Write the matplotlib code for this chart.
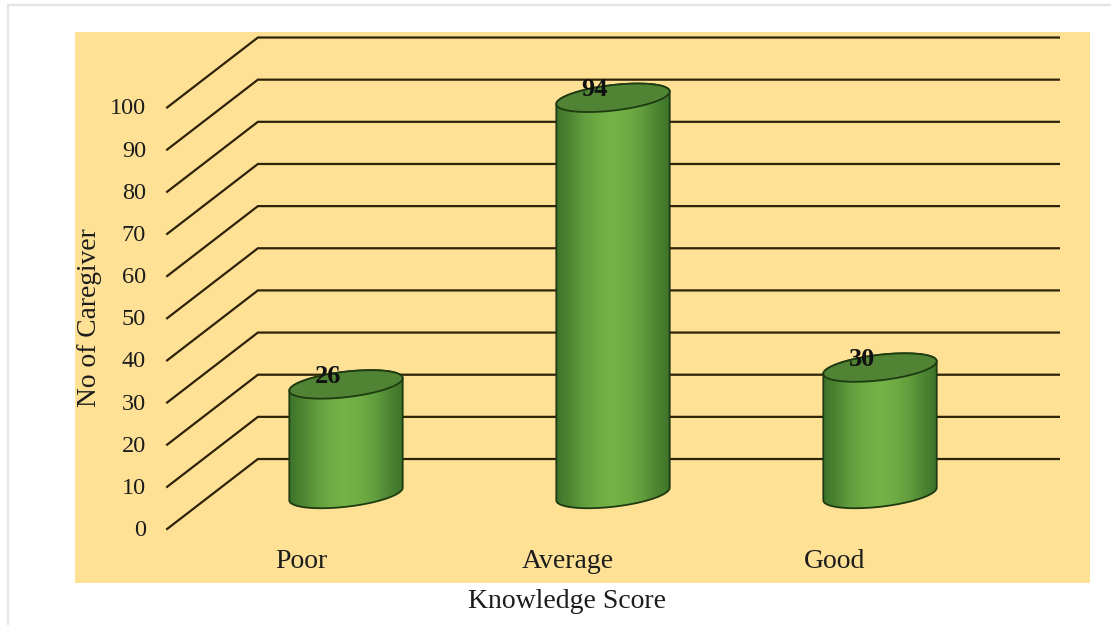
import matplotlib.pyplot as plt
import numpy as np
from matplotlib.lines import Line2D
from matplotlib.patches import PathPatch, Polygon
from matplotlib.path import Path

plt.rcParams['font.family'] = ['Liberation Serif', 'DejaVu Serif']

# Data
categories = ["Poor", "Average", "Good"]
values = [26, 94, 30]
y_ticks = [0, 10, 20, 30, 40, 50, 60, 70, 80, 90, 100]

W, H = 1111, 625
fig = plt.figure(figsize=(W / 100, H / 100), dpi=100, facecolor='white')

# Yellow panel, in pixels of the reference
left, right, top, bottom = 75, 1090, 32, 583
ax = fig.add_axes([left / W, 1 - bottom / H, (right - left) / W, (bottom - top) / H])

# Scales: one category is 267 px, one unit of value is 4.215 px
px_x = 267.0
px_y = 4.215
ax.axis('off')
ax.add_patch(plt.Rectangle((0, 0), 1, 1, transform=ax.transAxes, color='#fee195', zorder=0))

# Depth of the 3D floor
front_x, back_x, end_x = -0.67, -0.33, 2.67
depth_y = 8.3
line_col = '#2e2208'

for v in y_ticks:
    ax.plot([front_x, back_x, end_x], [v - depth_y, v + depth_y, v + depth_y],
            color=line_col, lw=1.6, solid_joinstyle='miter', zorder=1)
    ax.text(front_x - 21 / px_x, v - depth_y - 1.5 / px_y, str(v), ha='right', va='center',
            fontsize=17.5, color='#1c1c1c', zorder=5)


def ellipse(cx, cy, t):
    # tilted ellipse, worked out in pixels then turned into data units
    a, b, tilt = 57.0, 13.0, np.radians(6)
    ex = a * np.cos(t) * np.cos(tilt) + b * np.sin(t) * np.sin(tilt)
    ey = a * np.cos(t) * np.sin(tilt) + b * np.sin(t) * np.cos(tilt)
    return cx + ex / px_x, cy + ey / px_y


stops = [0.0, 0.3, 0.68, 0.9, 1.0, 0.9, 0.68, 0.3, 0.0]
dark = np.array([0x3e, 0x73, 0x2a]) / 255
light = np.array([0x74, 0xb3, 0x47]) / 255
ramp = np.interp(np.linspace(0, 1, 200), np.linspace(0, 1, len(stops)), stops)
img = dark[None, None, :] + (light - dark)[None, None, :] * ramp[None, :, None]

for i, val in enumerate(values):
    # outline of the cylinder: lower half of the base, then up to the top ellipse
    bx, by = ellipse(i, 0, np.linspace(np.pi, 2 * np.pi, 60))
    tx, ty = ellipse(i, val, np.linspace(0, np.pi, 60))
    pts = np.vstack([np.column_stack([bx, by]), np.column_stack([tx, ty]), [[bx[0], by[0]]]])
    x0, x1 = i - 57 / px_x, i + 57 / px_x
    im = ax.imshow(img, extent=[x0, x1, -20, val + 10], aspect='auto', zorder=2.5)
    im.set_clip_path(PathPatch(Path(pts, closed=True), transform=ax.transData))
    ax.add_patch(PathPatch(Path(pts, closed=True), fc='none', ec='#1d3a10', lw=1.3, zorder=3))

    ex, ey = ellipse(i, val, np.linspace(0, 2 * np.pi, 120))
    ax.add_patch(Polygon(np.column_stack([ex, ey]), closed=True, fc='#508434',
                         ec='#1d3a10', lw=1.3, zorder=3.5))

    ax.text(i - 18 / px_x, val + 8 / px_y, str(val), ha='center', va='center',
            fontsize=19, fontweight='bold', color='#111111', zorder=6)
    ax.text(i - 45 / px_x, -16.1, categories[i], ha='center', va='center',
            fontsize=20, color='#1c1c1c', zorder=5)

ax.set_xlim((left - 346) / px_x, (right - 346) / px_x)
ax.set_ylim((494 - bottom) / px_y, (494 - top) / px_y)

fig.text(89 / W, 1 - 318 / H, "No of Caregiver", rotation=90, ha='center', va='center',
         fontsize=19.8, color='#1c1c1c')
fig.text(567 / W, 1 - 601 / H, "Knowledge Score", ha='center', va='center',
         fontsize=20, color='#1c1c1c')

# Faint page border from the screenshot
fig.add_artist(Line2D([8 / W, 1], [1 - 5 / H, 1 - 5 / H], color='#e4e4e4', lw=1.6))
fig.add_artist(Line2D([8 / W, 8 / W], [0, 1 - 5 / H], color='#e4e4e4', lw=1.6))

fig.savefig('out.png', dpi=100)
